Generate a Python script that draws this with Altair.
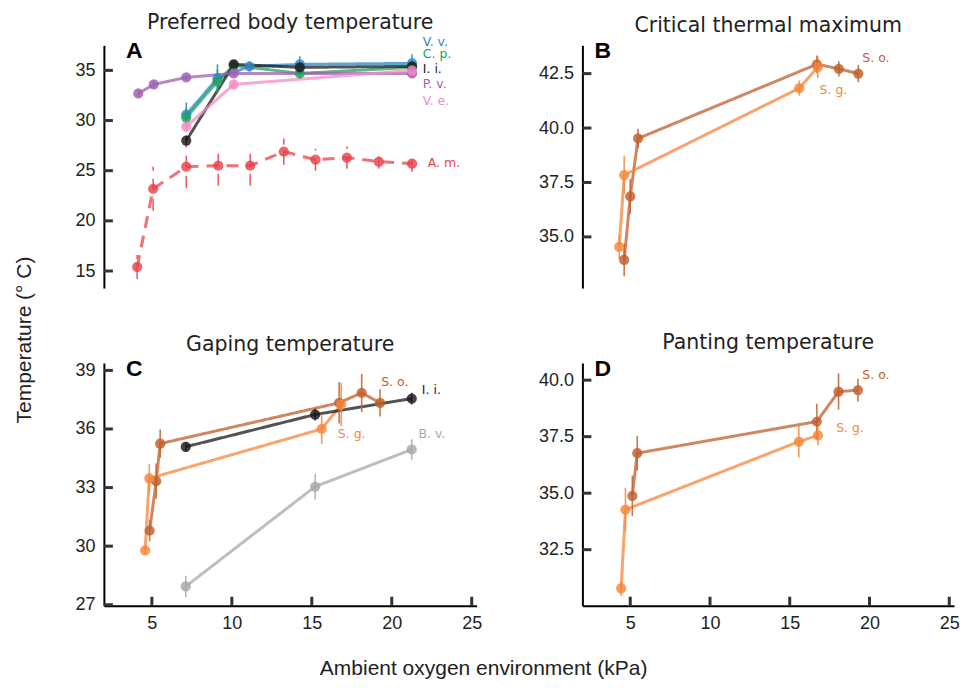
import altair as alt
import pandas as pd

# ---------------- data ----------------
X_DOMAIN = [2, 25.3]
X_TICKS = [5, 10, 15, 20, 25]

# every species in the figure and its colour (shared by all panels)
ALL_NAMES = ["V. v.", "C. p.", "I. i.", "P. v.", "V. e.", "A. m.", "S. o.", "S. g.", "B. v."]
ALL_COLORS = ["#2b86c5", "#22a35a", "#1a1a1a", "#9e5fb3", "#f28cc6", "#e8434b",
              "#bf5f2c", "#f5873b", "#a8a8a8"]
ALL_DASHES = [[1, 0]] * 5 + [[12, 8]] + [[1, 0]] * 3

# Panel A: preferred body temperature
A_NAMES = ["V. v.", "C. p.", "I. i.", "P. v.", "V. e.", "A. m."]
Vv_x = [7.15, 9.1, 11.1, 14.25, 21.27]
Vv_y = [30.6, 34.2, 35.4, 35.6, 35.7]
Vv_e = [1.2, 1.4, 0.5, 0.8, 0.9]
Cp_x = [7.15, 9.1, 10.12, 14.25, 21.27]
Cp_y = [30.3, 33.9, 35.5, 34.7, 35.3]
Cp_e = [1.0, 1.2, 0.5, 0.5, 0.5]
Ii_x = [7.15, 10.12, 14.25, 21.27]
Ii_y = [28.0, 35.6, 35.3, 35.4]
Ii_e = [0.5, 0.4, 0.4, 0.4]
Pv_x = [4.15, 5.12, 7.15, 10.12, 21.27]
Pv_y = [32.7, 33.6, 34.3, 34.7, 34.7]
Pv_e = [0.4, 0.4, 0.3, 0.3, 0.4]
Ve_x = [7.15, 10.12, 21.27]
Ve_y = [29.4, 33.6, 35.0]
Ve_e = [0.5, 0.4, 0.3]
Am_x = [4.08, 5.08, 7.15, 9.15, 11.15, 13.25, 15.23, 17.2, 19.19, 21.27]
Am_y = [15.4, 23.2, 25.4, 25.5, 25.5, 26.9, 26.1, 26.3, 25.9, 25.7]
Am_e = [1.2, 2.2, 2.1, 2.0, 2.0, 1.3, 1.1, 1.1, 0.7, 0.8]
A_LABEL_X = [21.94, 21.94, 21.94, 21.94, 21.94, 22.25]
A_LABEL_Y = [37.8, 36.66, 35.17, 33.68, 31.9, 25.78]

# Panel B: critical thermal maximum
B_NAMES = ["S. o.", "S. g."]
B_So_x = [4.62, 5.0, 5.49, 16.7, 18.08, 19.3]
B_So_y = [33.94, 36.86, 39.52, 42.93, 42.72, 42.5]
B_So_e = [0.75, 0.8, 0.45, 0.4, 0.35, 0.4]
B_Sg_x = [4.31, 4.62, 15.6, 16.76]
B_Sg_y = [34.54, 37.84, 41.83, 42.8]
B_Sg_e = [0.55, 0.87, 0.35, 0.5]
B_LABEL_X = [19.55, 16.87]
B_LABEL_Y = [43.2, 41.74]

# Panel C: gaping temperature
C_NAMES = ["S. o.", "S. g.", "I. i.", "B. v."]
C_So_x = [4.86, 5.27, 5.52, 16.71, 18.12, 19.27]
C_So_y = [30.8, 33.33, 35.25, 37.34, 37.85, 37.34]
C_So_e = [0.55, 0.9, 0.72, 1.06, 0.98, 0.7]
C_Sg_x = [4.58, 4.84, 15.62, 16.84]
C_Sg_y = [29.79, 33.47, 36.0, 37.25]
C_Sg_e = [0.2, 0.72, 0.77, 1.1]
C_Ii_x = [7.12, 15.21, 21.25]
C_Ii_y = [35.09, 36.74, 37.56]
C_Ii_e = [0.25, 0.3, 0.3]
C_Bv_x = [7.12, 15.21, 21.25]
C_Bv_y = [27.94, 33.05, 34.95]
C_Bv_e = [0.55, 0.66, 0.53]
C_LABEL_X = [19.34, 16.63, 21.88, 21.67]
C_LABEL_Y = [38.41, 35.75, 38.01, 35.72]

# Panel D: panting temperature
D_So_x = [5.13, 5.44, 16.7, 18.06, 19.28]
D_So_y = [34.88, 36.77, 38.17, 39.49, 39.56]
D_So_e = [0.9, 0.77, 0.79, 0.8, 0.5]
D_Sg_x = [4.43, 4.70, 15.57, 16.77]
D_Sg_y = [30.79, 34.27, 37.28, 37.56]
D_Sg_e = [0.33, 0.97, 0.7, 0.44]
D_LABEL_X = [19.55, 17.91]
D_LABEL_Y = [40.22, 37.88]

A_YDOM, A_YTICKS = [13.3, 37.5], [15, 20, 25, 30, 35]
B_YDOM, B_YTICKS = [32.65, 43.8], [35.0, 37.5, 40.0, 42.5]
C_YDOM, C_YTICKS = [26.95, 39.38], [27, 30, 33, 36, 39]
D_YDOM, D_YTICKS = [30.02, 40.76], [32.5, 35.0, 37.5, 40.0]

W, H = 373, 243
LABEL_FONT = "Liberation Sans"
TITLE_FONT = "DejaVu Sans"


def frame(series):
    rows = []
    for name, xs, ys, es in series:
        for i, (x, y, e) in enumerate(zip(xs, ys, es)):
            rows.append(dict(species=name, o2=x, temp=y, lo=y - e, hi=y + e, order=i))
    return pd.DataFrame(rows)


def panel(series, names, lab_x, lab_y, title, title_dy, letter, letter_dx,
          ydom, yticks, yfmt, show_x, width):
    df = frame(series)
    xs = alt.Scale(domain=X_DOMAIN, nice=False, zero=False)
    ys = alt.Scale(domain=ydom, nice=False, zero=False)
    xaxis = alt.Axis(values=X_TICKS, title=None, format="d") if show_x else None
    yaxis = alt.Axis(values=yticks, title=None, format=yfmt)

    def X(f):
        return alt.X(f, type="quantitative", scale=xs, axis=xaxis, title=None)

    def Y(f):
        return alt.Y(f, type="quantitative", scale=ys, axis=yaxis, title=None)

    color = alt.Color("species:N", scale=alt.Scale(domain=ALL_NAMES, range=ALL_COLORS), legend=None)
    dash = alt.StrokeDash("species:N", scale=alt.Scale(domain=ALL_NAMES, range=ALL_DASHES),
                          legend=None)

    base = alt.Chart(df)
    line = base.mark_line(strokeWidth=3, opacity=0.75).encode(
        x=X("o2"), y=Y("temp"), color=color, strokeDash=dash, order="order:Q")
    pts = base.mark_circle(size=105, opacity=0.82).encode(x=X("o2"), y=Y("temp"), color=color)
    err = base.mark_rule(strokeWidth=1.6, opacity=0.85).encode(
        x=X("o2"), y=Y("lo"), y2="hi", color=color, strokeDash=dash)

    ldf = pd.DataFrame({"species": names, "lx": lab_x, "ly": lab_y})
    labels = alt.Chart(ldf).mark_text(align="left", baseline="middle", font=TITLE_FONT,
                                      fontSize=12.5).encode(
        x=X("lx"), y=Y("ly"), text="species:N", color=color)

    let = alt.Chart(pd.DataFrame({"t": [letter]})).mark_text(
        align="left", baseline="alphabetic", font=LABEL_FONT, fontSize=23,
        fontWeight="bold", color="#000").encode(
        x=alt.value(letter_dx), y=alt.value(13), text="t:N")

    ttl = alt.Chart(pd.DataFrame({"t": [title]})).mark_text(
        align="center", baseline="alphabetic", font=TITLE_FONT, fontSize=20.5,
        color="#222").encode(x=alt.value(width / 2), y=alt.value(-title_dy), text="t:N")

    yt = alt.Chart(pd.DataFrame({"v": yticks})).mark_rule(strokeWidth=3, color="#333").encode(
        y=Y("v"), x=alt.value(0), x2=alt.value(9))
    layers = [yt, line, err, pts, labels, let, ttl]
    if show_x:
        xt = alt.Chart(pd.DataFrame({"v": X_TICKS})).mark_rule(strokeWidth=3, color="#333").encode(
            x=X("v"), y=alt.value(H), y2=alt.value(H - 9))
        layers.insert(0, xt)
    return alt.layer(*layers).properties(width=width, height=H)


W2 = 372
pA = panel([("V. v.", Vv_x, Vv_y, Vv_e), ("C. p.", Cp_x, Cp_y, Cp_e),
            ("I. i.", Ii_x, Ii_y, Ii_e), ("P. v.", Pv_x, Pv_y, Pv_e),
            ("V. e.", Ve_x, Ve_y, Ve_e), ("A. m.", Am_x, Am_y, Am_e)],
           A_NAMES, A_LABEL_X, A_LABEL_Y, "Preferred body temperature", 16, "A", 22,
           A_YDOM, A_YTICKS, "d", False, W)
pB = panel([("S. o.", B_So_x, B_So_y, B_So_e), ("S. g.", B_Sg_x, B_Sg_y, B_Sg_e)],
           B_NAMES, B_LABEL_X, B_LABEL_Y, "Critical thermal maximum", 13, "B", 12,
           B_YDOM, B_YTICKS, ".1f", False, W2)
pC = panel([("S. o.", C_So_x, C_So_y, C_So_e), ("S. g.", C_Sg_x, C_Sg_y, C_Sg_e),
            ("I. i.", C_Ii_x, C_Ii_y, C_Ii_e), ("B. v.", C_Bv_x, C_Bv_y, C_Bv_e)],
           C_NAMES, C_LABEL_X, C_LABEL_Y, "Gaping temperature", 11.5, "C", 22,
           C_YDOM, C_YTICKS, "d", True, W)
pD = panel([("S. o.", D_So_x, D_So_y, D_So_e), ("S. g.", D_Sg_x, D_Sg_y, D_Sg_e)],
           B_NAMES, D_LABEL_X, D_LABEL_Y, "Panting temperature", 14, "D", 12,
           D_YDOM, D_YTICKS, ".1f", True, W2)

grid = alt.concat(pA, pB, pC, pD, columns=2, spacing={"row": 75, "column": 106},
                  bounds="flush")

ylab = alt.Chart(pd.DataFrame({"t": ["Temperature (° C)"]})).mark_text(
    angle=270, font=LABEL_FONT, fontSize=21, color="#222", align="center",
    baseline="middle").encode(text="t:N", x=alt.value(17), y=alt.value(295)).properties(
    width=30, height=561)

chart = alt.hconcat(ylab, grid, spacing=66, bounds="flush").properties(
    padding={"top": 5, "bottom": 0, "left": 0, "right": 0},
    title=alt.TitleParams("Ambient oxygen environment (kPa)", orient="bottom", anchor="middle",
                          font=LABEL_FONT, fontSize=21, fontWeight="normal", color="#222",
                          offset=25),
).configure_view(stroke=None).configure_axis(
    labelFont=LABEL_FONT, labelFontSize=18, labelColor="#222", domainColor="#000",
    domainWidth=2, ticks=False, tickSize=0, grid=False, labelPadding=9,
)

chart.save("out.html", embed_options={"renderer": "svg", "actions": False})
